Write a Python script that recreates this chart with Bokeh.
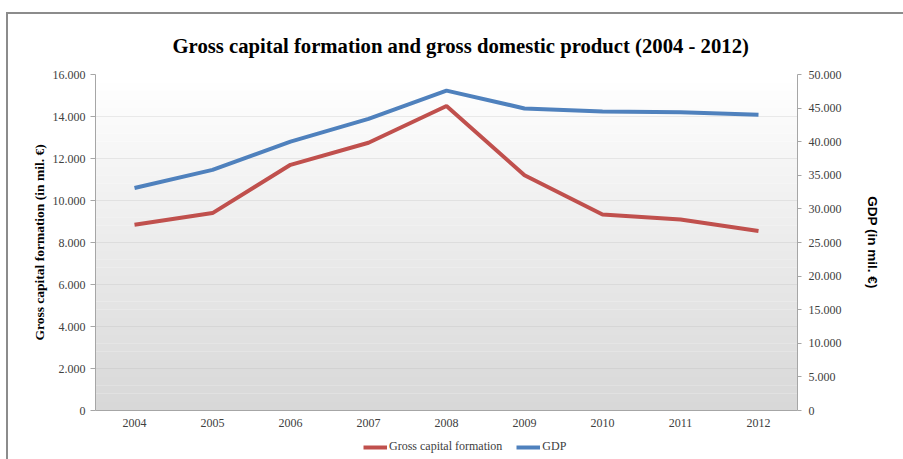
from bokeh.plotting import figure
from bokeh.layouts import column
from bokeh.models import (Range1d, LinearAxis, FixedTicker, Legend, LegendItem,
                          BoxAnnotation, FactorRange)
from bokeh.embed import file_html
from bokeh.resources import INLINE

years = ["2004", "2005", "2006", "2007", "2008", "2009", "2010", "2011", "2012"]
gcf = [8850, 9400, 11700, 12750, 14500, 11200, 9330, 9100, 8550]
gdp = [33100, 35800, 40000, 43400, 47600, 44950, 44500, 44400, 44000]

left_ticks = [0, 2000, 4000, 6000, 8000, 10000, 12000, 14000, 16000]
left_labels = ["0", "2.000", "4.000", "6.000", "8.000", "10.000", "12.000", "14.000", "16.000"]
right_ticks = [0, 5000, 10000, 15000, 20000, 25000, 30000, 35000, 40000, 45000, 50000]
right_labels = ["0", "5.000", "10.000", "15.000", "20.000", "25.000", "30.000",
                "35.000", "40.000", "45.000", "50.000"]

title = "Gross capital formation and gross domestic product (2004 - 2012)"
left_label = "Gross capital formation (in mil. \u20ac)"
right_label = "GDP (in mil. \u20ac)"
series_names = ["Gross capital formation", "GDP"]

RED = "#C0504D"
BLUE = "#4F81BD"
SERIF = "Liberation Serif"
TICK_COLOR = "#404040"
AXIS_COLOR = "#a6a6a6"

p = figure(width=895, height=418, x_range=FactorRange(*years),
           y_range=Range1d(0, 16000), output_backend="svg", toolbar_location=None,
           min_border_left=87, min_border_right=106, min_border_top=59,
           min_border_bottom=22)
p.extra_y_ranges = {"gdp": Range1d(0, 50000)}

# background gradient (white at top to light gray at bottom)
n = 40
y0, y1 = 0, 16000
for i in range(n):
    t = (i + 0.5) / n
    c = int(round(216 + (255 - 216) * t))
    p.add_layout(BoxAnnotation(bottom=y0 + (y1 - y0) * i / n,
                               top=y0 + (y1 - y0) * (i + 1) / n,
                               fill_color=(c, c, c), fill_alpha=1.0,
                               line_color=None, level="underlay"))

p.outline_line_color = None
p.background_fill_color = "white"

p.title.text = title
p.title.text_font = SERIF
p.title.text_font_size = "20.7px"
p.title.text_font_style = "bold"
p.title.text_color = "black"
p.title.align = "left"
p.title.offset = 77
p.title.standoff = 36

# x axis
xa = p.xaxis[0]
xa.axis_line_color = AXIS_COLOR
xa.major_tick_line_color = None
xa.major_tick_out = 0
xa.major_tick_in = 0
xa.minor_tick_line_color = None
xa.major_label_text_font = SERIF
xa.major_label_text_font_size = "12px"
xa.major_label_text_color = TICK_COLOR
xa.major_label_standoff = 8
p.xgrid.grid_line_color = None

# left axis
ya = p.yaxis[0]
ya.ticker = FixedTicker(ticks=left_ticks)
ya.major_label_overrides = dict(zip(left_ticks, left_labels))
ya.axis_line_color = AXIS_COLOR
ya.major_tick_line_color = AXIS_COLOR
ya.major_tick_out = 5
ya.major_tick_in = 0
ya.minor_tick_line_color = None
ya.major_label_text_font = SERIF
ya.major_label_text_font_size = "12px"
ya.major_label_text_color = TICK_COLOR
ya.major_label_standoff = 5
ya.axis_label = left_label
ya.axis_label_text_font = SERIF
ya.axis_label_text_font_size = "13.5px"
ya.axis_label_text_font_style = "bold"
ya.axis_label_text_color = "black"
ya.axis_label_standoff = 3
p.ygrid.ticker = FixedTicker(ticks=left_ticks)
p.ygrid.grid_line_color = "#b3b3b3"
p.ygrid.grid_line_width = 1

# right axis
ra = LinearAxis(y_range_name="gdp", ticker=FixedTicker(ticks=right_ticks))
ra.major_label_overrides = dict(zip(right_ticks, right_labels))
ra.axis_line_color = AXIS_COLOR
ra.major_tick_line_color = AXIS_COLOR
ra.major_tick_out = 4
ra.major_tick_in = 0
ra.minor_tick_line_color = None
ra.major_label_text_font = SERIF
ra.major_label_text_font_size = "12px"
ra.major_label_text_color = TICK_COLOR
ra.major_label_standoff = 7
ra.axis_label = right_label
ra.axis_label_text_font = "Liberation Sans"
ra.axis_label_text_font_size = "13.5px"
ra.axis_label_text_font_style = "bold"
ra.axis_label_text_color = "black"
ra.axis_label_standoff = 20
p.add_layout(ra, "right")

p.line(x=years, y=gcf, line_color=RED, line_width=4)
p.line(x=years, y=gdp, line_color=BLUE, line_width=4, y_range_name="gdp")

# legend strip below the chart (its lines lie outside its own visible range)
lg = figure(width=895, height=27, x_range=FactorRange(*years),
            y_range=Range1d(-2, -1), output_backend="svg", toolbar_location=None,
            x_axis_location=None, y_axis_location=None, min_border=0)
lg.grid.visible = False
lg.outline_line_color = None
g1 = lg.line(x=years, y=gcf, line_color=RED, line_width=4)
g2 = lg.line(x=years, y=gdp, line_color=BLUE, line_width=4)
legend = Legend(items=[LegendItem(label=series_names[0], renderers=[g1]),
                       LegendItem(label=series_names[1], renderers=[g2])],
                orientation="horizontal", location=(268, 5),
                label_text_font=SERIF, label_text_font_size="12px",
                label_text_color=TICK_COLOR, glyph_width=24, glyph_height=12,
                label_standoff=2, spacing=14, padding=0, margin=0,
                label_height=12,
                border_line_color=None, background_fill_alpha=0)
lg.add_layout(legend, "center")

layout = column(p, lg, spacing=0, margin=(12, 0, 0, 6),
                styles={"border-left": "2px solid #8c8c8c",
                        "border-top": "2px solid #8c8c8c"})

open("out.html", "w").write(file_html(layout, INLINE))
